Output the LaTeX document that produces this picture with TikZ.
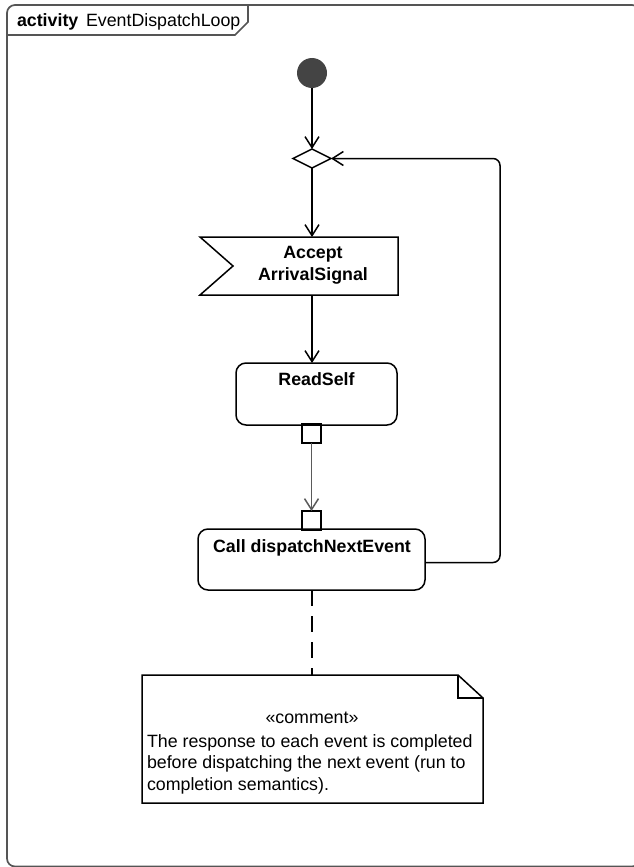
\documentclass[tikz,border=0pt]{standalone}
\usepackage{fontspec}
\setmainfont{Liberation Sans}
\usetikzlibrary{arrows.meta,shapes.geometric,calc}
\definecolor{initgray}{HTML}{444444}
\definecolor{framegray}{HTML}{555555}
\definecolor{flowgray}{HTML}{5A5A5A}
\begin{document}
\begin{tikzpicture}[x=1pt,y=-1pt,
  line width=1.5pt,
  every node/.style={inner sep=0pt, outer sep=0pt},
  lbl/.style={font=\fontsize{17.8}{21}\selectfont, anchor=base},
  blbl/.style={font=\bfseries\fontsize{17.8}{21}\selectfont, anchor=base},
  actbox/.style={draw, rounded corners=10pt, line width=1.5pt},
  pinbox/.style={draw, minimum width=19pt, minimum height=19pt, line width=1.5pt},
  flow/.style={draw, line width=1.5pt, -{Straight Barb[length=11pt,width=14pt,line width=1.5pt]}},
]
\useasboundingbox (0,0) rectangle (633,867);
\fill[white] (0,0) rectangle (633,867);
% frame
\draw[framegray, line width=1.7pt, rounded corners=8pt] (7,866.5) -- (7,5) -- (640,5) -- (640,866.5) -- cycle;
\draw[framegray, line width=1.7pt] (248,5) -- (248,22) -- (235,35) -- (7,35);
\node[blbl, anchor=base west] (kw) at (17,27) {activity};
\node[lbl, anchor=base west] (nm) at (86,27) {EventDispatchLoop};
% nodes
\node[circle, fill=initgray, minimum size=30pt] (init) at (312,73) {};
\node[diamond, draw, minimum width=38pt, minimum height=19pt, aspect=2] (dec) at (312,158.5) {};
\node[minimum width=198pt, minimum height=58pt] (acc) at (299,266) {};
\draw (acc.north west) -- (acc.north east) -- (acc.south east) -- (acc.south west) -- ($(acc.west)+(33,0)$) -- cycle;
\node[blbl] (acc1) at (313,258) {Accept};
\node[blbl] (acc2) at (313,280) {ArrivalSignal};
\node[actbox, minimum width=161pt, minimum height=62pt] (rs) at (316.5,394) {};
\node[blbl] (rst) at (316.5,385) {ReadSelf};
\node[pinbox] (pout) at (311.5,433.5) {};
\node[pinbox] (pin) at (311.5,520.5) {};
\node[actbox, minimum width=227pt, minimum height=61pt] (call) at (311.5,559.5) {};
\node[blbl] (callt) at (312,552) {Call dispatchNextEvent};
% note
\node[minimum width=341pt, minimum height=128pt] (note) at (312.5,739) {};
\draw (note.north west) -- ($(note.north east)+(-25,0)$) -- ($(note.north east)+(0,23)$) -- (note.south east) -- (note.south west) -- cycle;
\draw ($(note.north east)+(-25,0)$) -- ($(note.north east)+(-25,23)$) -- ($(note.north east)+(0,23)$);
\node[lbl] (st) at (312,723) {«comment»};
\node[lbl, anchor=base west] (n1) at (147,747) {The response to each event is completed};
\node[lbl, anchor=base west] (n2) at (147,768.5) {before dispatching the next event (run to};
\node[lbl, anchor=base west] (n3) at (147,790) {completion semantics).};
% connectors
\draw[flow] (init.south) -- (dec.north);
\draw[flow] (dec.south) -- (dec.south |- acc.north);
\draw[flow] (dec.south |- acc.south) -- (dec.south |- rs.north);
\draw[flow, flowgray] (pout.south) -- (pin.north);
\draw[flow, rounded corners=7pt] ([yshift=-3pt]call.east) -- (500,562.5) -- (500,158.5) -- (dec.east);
\draw[dash pattern=on 16pt off 10pt] (call.south -| dec) -- (note.north -| dec);
\end{tikzpicture}
\end{document}
